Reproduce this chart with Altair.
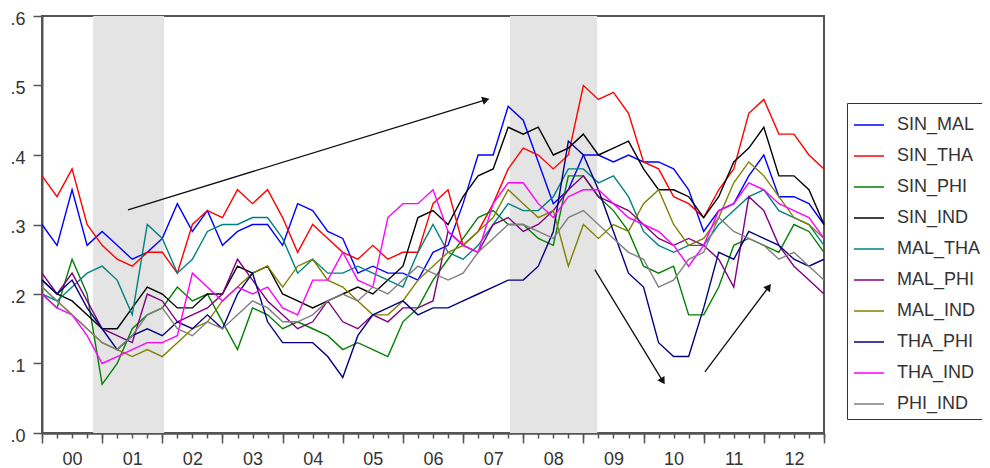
import math
import altair as alt
import pandas as pd

# quarterly sampling dates (decimal years)
TIME = [2000 + q / 4 for q in range(53)]
YEARS = list(range(2000, 2014))

SERIES = ["SIN_MAL", "SIN_THA", "SIN_PHI", "SIN_IND", "MAL_THA",
          "MAL_PHI", "MAL_IND", "THA_PHI", "THA_IND", "PHI_IND"]
COLORS = ["#0000FF", "#FF0000", "#008000", "#000000", "#008080",
          "#800080", "#808000", "#000080", "#FF00FF", "#808080"]

SIN_MAL = [0.30, 0.27, 0.35, 0.27, 0.29, 0.27, 0.25, 0.26, 0.28, 0.33, 0.29, 0.32, 0.27,
           0.29, 0.30, 0.30, 0.27, 0.33, 0.32, 0.29, 0.28, 0.23, 0.24, 0.23, 0.23, 0.22,
           0.26, 0.27, 0.33, 0.40, 0.40, 0.47, 0.45, 0.39, 0.33, 0.35, 0.40, 0.40, 0.39,
           0.40, 0.39, 0.39, 0.38, 0.35, 0.29, 0.32, 0.33, 0.37, 0.40, 0.34, 0.34, 0.33, 0.30]
SIN_THA = [0.37, 0.34, 0.38, 0.30, 0.27, 0.25, 0.24, 0.26, 0.26, 0.23, 0.30, 0.32, 0.31,
           0.35, 0.33, 0.35, 0.31, 0.26, 0.30, 0.28, 0.26, 0.25, 0.27, 0.25, 0.26, 0.26,
           0.33, 0.35, 0.27, 0.29, 0.33, 0.38, 0.41, 0.40, 0.38, 0.40, 0.50, 0.48, 0.49,
           0.46, 0.39, 0.38, 0.34, 0.33, 0.31, 0.35, 0.38, 0.46, 0.48, 0.43, 0.43, 0.40, 0.38]
SIN_PHI = [0.20, 0.18, 0.25, 0.20, 0.07, 0.10, 0.15, 0.17, 0.18, 0.21, 0.19, 0.20, 0.16,
           0.12, 0.18, 0.17, 0.15, 0.16, 0.15, 0.14, 0.12, 0.13, 0.12, 0.11, 0.16, 0.18,
           0.22, 0.25, 0.28, 0.31, 0.32, 0.30, 0.30, 0.28, 0.27, 0.37, 0.37, 0.34, 0.32,
           0.29, 0.24, 0.23, 0.24, 0.17, 0.17, 0.21, 0.27, 0.28, 0.27, 0.26, 0.30, 0.29, 0.26]
SIN_IND = [0.22, 0.20, 0.19, 0.17, 0.15, 0.15, 0.18, 0.21, 0.20, 0.18, 0.18, 0.20, 0.20,
           0.24, 0.23, 0.24, 0.20, 0.19, 0.18, 0.19, 0.20, 0.21, 0.20, 0.22, 0.24, 0.31,
           0.32, 0.30, 0.34, 0.37, 0.38, 0.44, 0.43, 0.44, 0.40, 0.41, 0.43, 0.40, 0.41,
           0.42, 0.38, 0.35, 0.35, 0.34, 0.31, 0.34, 0.39, 0.41, 0.44, 0.37, 0.37, 0.35, 0.30]
MAL_THA = [0.20, 0.19, 0.21, 0.23, 0.24, 0.22, 0.17, 0.30, 0.28, 0.23, 0.25, 0.29, 0.30,
           0.30, 0.31, 0.31, 0.28, 0.23, 0.25, 0.23, 0.23, 0.24, 0.23, 0.22, 0.21, 0.26,
           0.30, 0.26, 0.25, 0.27, 0.30, 0.33, 0.32, 0.32, 0.34, 0.38, 0.38, 0.36, 0.37,
           0.34, 0.29, 0.27, 0.26, 0.27, 0.27, 0.30, 0.32, 0.34, 0.35, 0.32, 0.31, 0.30, 0.27]
MAL_PHI = [0.23, 0.20, 0.23, 0.19, 0.15, 0.14, 0.13, 0.20, 0.19, 0.16, 0.17, 0.18, 0.20,
           0.25, 0.22, 0.19, 0.17, 0.15, 0.16, 0.19, 0.16, 0.15, 0.17, 0.16, 0.18, 0.18,
           0.19, 0.29, 0.27, 0.26, 0.30, 0.31, 0.29, 0.30, 0.32, 0.35, 0.37, 0.34, 0.33,
           0.32, 0.30, 0.28, 0.27, 0.28, 0.27, 0.25, 0.21, 0.34, 0.32, 0.27, 0.24, 0.22, 0.20]
MAL_IND = [0.21, 0.19, 0.17, 0.15, 0.13, 0.12, 0.11, 0.12, 0.11, 0.13, 0.15, 0.16, 0.19,
           0.21, 0.23, 0.24, 0.21, 0.24, 0.25, 0.22, 0.21, 0.19, 0.17, 0.17, 0.19, 0.22,
           0.24, 0.26, 0.27, 0.29, 0.31, 0.35, 0.33, 0.31, 0.32, 0.24, 0.30, 0.28, 0.30,
           0.29, 0.33, 0.35, 0.30, 0.27, 0.28, 0.31, 0.36, 0.39, 0.37, 0.34, 0.31, 0.30, 0.28]
THA_PHI = [0.22, 0.20, 0.22, 0.18, 0.15, 0.12, 0.14, 0.15, 0.14, 0.16, 0.15, 0.17, 0.15,
           0.20, 0.23, 0.16, 0.13, 0.13, 0.13, 0.11, 0.08, 0.14, 0.17, 0.18, 0.19, 0.17,
           0.18, 0.18, 0.19, 0.20, 0.21, 0.22, 0.22, 0.24, 0.29, 0.42, 0.40, 0.35, 0.29,
           0.23, 0.21, 0.13, 0.11, 0.11, 0.18, 0.26, 0.25, 0.29, 0.28, 0.27, 0.25, 0.24, 0.25]
THA_IND = [0.20, 0.18, 0.17, 0.14, 0.10, 0.11, 0.12, 0.13, 0.13, 0.14, 0.23, 0.21, 0.19,
           0.21, 0.20, 0.21, 0.18, 0.17, 0.22, 0.22, 0.26, 0.22, 0.21, 0.31, 0.33, 0.33,
           0.35, 0.29, 0.27, 0.26, 0.33, 0.36, 0.36, 0.33, 0.31, 0.34, 0.35, 0.35, 0.33,
           0.31, 0.30, 0.29, 0.27, 0.24, 0.27, 0.32, 0.33, 0.36, 0.35, 0.33, 0.32, 0.31, 0.28]
PHI_IND = [0.21, 0.19, 0.17, 0.15, 0.13, 0.12, 0.14, 0.17, 0.18, 0.15, 0.14, 0.16, 0.15,
           0.17, 0.19, 0.18, 0.16, 0.16, 0.17, 0.19, 0.20, 0.19, 0.21, 0.20, 0.22, 0.24,
           0.23, 0.22, 0.23, 0.26, 0.28, 0.30, 0.30, 0.29, 0.28, 0.31, 0.32, 0.30, 0.28,
           0.26, 0.25, 0.21, 0.22, 0.25, 0.26, 0.31, 0.29, 0.28, 0.27, 0.25, 0.26, 0.24, 0.22]

VALUES = [SIN_MAL, SIN_THA, SIN_PHI, SIN_IND, MAL_THA,
          MAL_PHI, MAL_IND, THA_PHI, THA_IND, PHI_IND]

# shaded periods (decimal years)
SHADE_START = [2000.85, 2007.78]
SHADE_END = [2002.03, 2009.23]

# annotation arrows (decimal year, value)
ARROW_X0 = [2001.43, 2009.19, 2011.02]
ARROW_Y0 = [0.321, 0.235, 0.088]
ARROW_X1 = [2007.36, 2010.31, 2012.07]
ARROW_Y1 = [0.479, 0.076, 0.209]

W, H = 782, 417
X_DOM = [2000, 2013]
Y_DOM = [0.0, 0.6]

rows = []
for name, vals in zip(SERIES, VALUES):
    for t, v in zip(TIME, vals):
        rows.append({"t": t, "v": v, "series": name})
df = pd.DataFrame(rows)

shade_df = pd.DataFrame({"start": SHADE_START, "end": SHADE_END})

px_per_x = W / (X_DOM[1] - X_DOM[0])
px_per_y = H / (Y_DOM[1] - Y_DOM[0])
angles = []
for x0, y0, x1, y1 in zip(ARROW_X0, ARROW_Y0, ARROW_X1, ARROW_Y1):
    dx = (x1 - x0) * px_per_x
    dy = -(y1 - y0) * px_per_y
    angles.append(math.degrees(math.atan2(dx, -dy)) % 360)
arrow_df = pd.DataFrame({"x0": ARROW_X0, "y0": ARROW_Y0, "x1": ARROW_X1,
                         "y1": ARROW_Y1, "ang": angles})

xscale = alt.Scale(domain=X_DOM, nice=False, zero=False)
yscale = alt.Scale(domain=Y_DOM, nice=False, zero=False)

FONT = "Liberation Sans"
AX = "#555555"

# major (yearly) ticks, no labels
x_axis_major = alt.Axis(
    orient="bottom",
    values=YEARS,
    title=None,
    grid=False,
    tickSize=10,
    labels=False,
    domainColor=AX,
    domainWidth=2,
    tickColor=AX,
    tickWidth=1.5,
)
# minor (quarterly) ticks with year labels at mid-year
x_axis_minor = alt.Axis(
    orient="bottom",
    values=TIME,
    title=None,
    grid=False,
    tickSize=5,
    labelExpr="(datum.value % 1 == 0.5) ? slice('0' + (floor(datum.value) % 100), -2) : ''",
    labelOverlap=False,
    labelFlush=False,
    labelPadding=12,
    labelFontSize=18,
    labelFont=FONT,
    labelColor="#333333",
    domainColor=AX,
    domainWidth=2,
    tickColor=AX,
    tickWidth=1.5,
)
y_axis = alt.Axis(
    values=[0.0, 0.1, 0.2, 0.3, 0.4, 0.5, 0.6],
    title=None,
    grid=False,
    tickSize=9,
    labelExpr="replace(format(datum.value, '.1f'), '0.', '.')",
    labelPadding=8,
    labelOffset=3,
    labelFontSize=18,
    labelFont=FONT,
    labelColor="#333333",
    domainColor=AX,
    domainWidth=2,
    tickColor=AX,
    tickWidth=1.5,
)

shade = alt.Chart(shade_df).mark_rect(color="#E4E4E4").encode(
    x=alt.X("start:Q", scale=xscale, axis=x_axis_major),
    x2="end:Q",
)

lines = alt.Chart(df).mark_line(strokeWidth=1.4).encode(
    x=alt.X("t:Q", scale=xscale, axis=x_axis_minor),
    y=alt.Y("v:Q", scale=yscale, axis=y_axis),
    color=alt.Color(
        "series:N",
        scale=alt.Scale(domain=SERIES, range=COLORS),
        sort=SERIES,
        legend=alt.Legend(
            title=None,
            orient="none",
            legendX=805,
            legendY=87,
            symbolType="stroke",
            symbolSize=900,
            symbolStrokeWidth=1.5,
            labelFontSize=18,
            labelFont=FONT,
            labelColor="#333333",
            labelOffset=12,
            rowPadding=6,
            padding=6,
            strokeColor="#333333",
            fillColor="white",
            labelLimit=200,
        ),
    ),
    order=alt.Order("t:Q"),
)

arrow_lines = alt.Chart(arrow_df).mark_rule(color="#111111", strokeWidth=1.3).encode(
    x=alt.X("x0:Q", scale=xscale, axis=None),
    y=alt.Y("y0:Q", scale=yscale, axis=y_axis),
    x2="x1:Q",
    y2="y1:Q",
)
arrow_heads = alt.Chart(arrow_df).mark_point(
    shape="triangle", filled=True, color="#111111", size=70, opacity=1
).encode(
    x=alt.X("x1:Q", scale=xscale, axis=None),
    y=alt.Y("y1:Q", scale=yscale, axis=y_axis),
    angle=alt.Angle("ang:Q", scale=None),
)

chart = alt.layer(shade, lines, arrow_lines, arrow_heads).resolve_axis(
    x="independent"
).properties(
    width=W,
    height=H,
    background="white",
    autosize=alt.AutoSizeParams(type="none"),
    padding={"left": 34, "top": 8, "right": 158, "bottom": 36},
).configure_view(
    stroke=AX,
    strokeWidth=2,
)

chart.save("out.html", embed_options={"renderer": "svg", "actions": False})
